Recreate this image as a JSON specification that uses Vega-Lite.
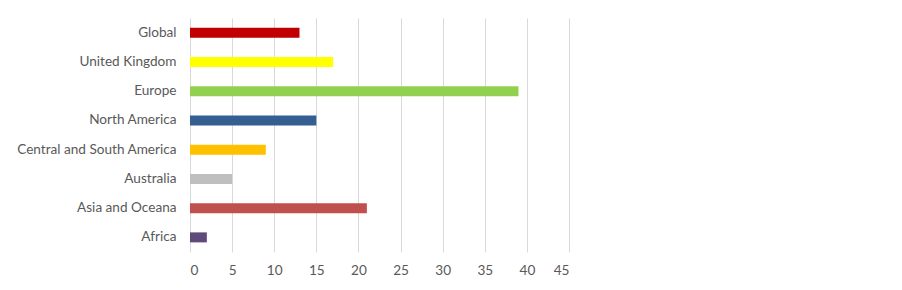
{
  "$schema": "https://vega.github.io/schema/vega-lite/v6.json",
  "autosize": {"type": "none"},
  "width": 379,
  "height": 234,
  "padding": {"left": 190, "top": 18, "right": 333, "bottom": 38},
  "background": "white",
  "data": {"values": [
    {"region": "Global", "value": 13, "color": "#c00000"},
    {"region": "United Kingdom", "value": 17, "color": "#ffff00"},
    {"region": "Europe", "value": 39, "color": "#92d050"},
    {"region": "North America", "value": 15, "color": "#355f91"},
    {"region": "Central and South America", "value": 9, "color": "#ffc000"},
    {"region": "Australia", "value": 5, "color": "#bfbfbf"},
    {"region": "Asia and Oceana", "value": 21, "color": "#c0504d"},
    {"region": "Africa", "value": 2, "color": "#604a7b"}
  ]},
  "mark": {"type": "bar", "height": 10},
  "encoding": {
    "y": {"field": "region", "type": "nominal", "sort": null, "title": null,
      "axis": {"domain": false, "ticks": false, "labelPadding": 14, "labelFont": "Lato", "labelFontSize": 13.6, "labelColor": "#595959", "grid": false}},
    "x": {"field": "value", "type": "quantitative", "title": null,
      "scale": {"domain": [0, 45], "nice": false},
      "axis": {"values": [0,5,10,15,20,25,30,35,40,45], "domain": false, "ticks": false, "labelPadding": 11, "labelFont": "Lato", "labelFontSize": 13.6, "labelColor": "#595959", "gridColor": "#d9d9d9", "gridWidth": 1}},
    "color": {"field": "color", "type": "nominal", "scale": null}
  },
  "config": {"view": {"stroke": null}}
}
